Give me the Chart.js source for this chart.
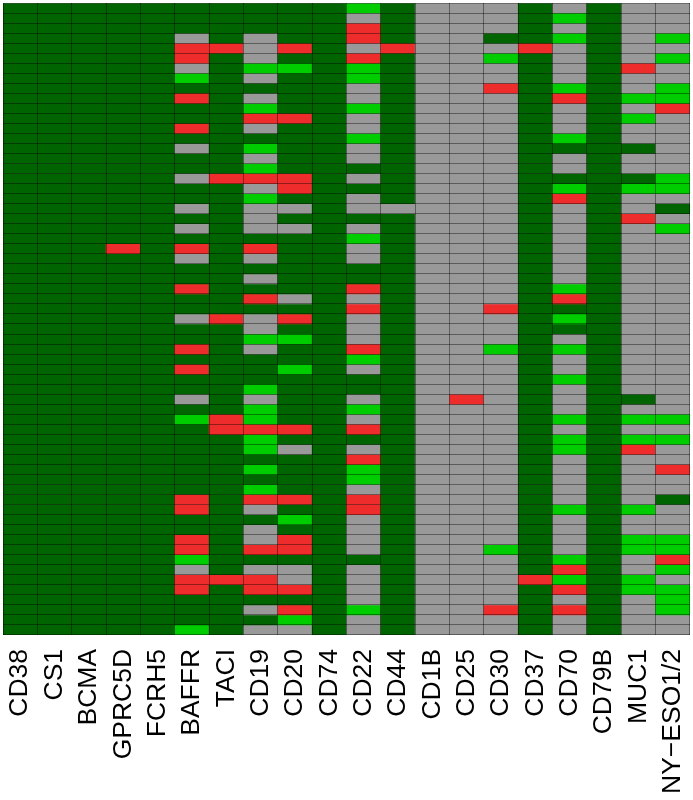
<!DOCTYPE html>
<html>
<head>
<meta charset="utf-8">
<script src="https://cdn.jsdelivr.net/npm/chart.js@4/dist/chart.umd.min.js"></script>
<style>
  html, body { margin: 0; padding: 0; overflow: hidden; background: #ffffff; }
  #wrap { width: 693px; height: 800px; position: relative; }
  canvas { display: block; }
</style>
</head>
<body>
<div id="wrap"><canvas id="heatmap"></canvas></div>
<script>
// Heatmap of target markers (columns) by sample (rows, top to bottom).
// Cell codes: d = dark green, g = grey, b = bright green, r = red

const markers = [
    'CD38', 'CS1', 'BCMA', 'GPRC5D', 'FCRH5', 'BAFFR', 'TACI', 'CD19', 'CD20', 'CD74',
    'CD22', 'CD44', 'CD1B', 'CD25', 'CD30', 'CD37', 'CD70', 'CD79B', 'MUC1', 'NY\u2212ESO1/2',
];

// one string per marker, one letter per sample row (63 rows, groups of 10)
const cellCodes = [
    'dddddddddd dddddddddd dddddddddd dddddddddd dddddddddd dddddddddd ddd', // CD38
    'dddddddddd dddddddddd dddddddddd dddddddddd dddddddddd dddddddddd ddd', // CS1
    'dddddddddd dddddddddd dddddddddd dddddddddd dddddddddd dddddddddd ddd', // BCMA
    'dddddddddd dddddddddd ddddrddddd dddddddddd dddddddddd dddddddddd ddd', // GPRC5D
    'dddddddddd dddddddddd dddddddddd dddddddddd dddddddddd dddddddddd ddd', // FCRH5
    'dddgrrgbdr ddrdgddgdd gdgdrgddrd dgddrdrddg dbdddddddr rddrrbgrrd ddb', // BAFFR
    'ddddrddddd dddddddrdd dddddddddd drdddddddd drrddddddd dddddddrdd ddd', // TACI
    'dddgggbgdg brgdbgbrgb gggdrgdgdr dggbgdddbg bbrbbdbdbr gdggrdgrrd gdg', // CD19
    'ddddrdbddd drdddddrrd gdgddddddg drdbddbddd ddrdgddddr dbdrrdggrd rbg', // CD20
    'dddddddddd dddddddddd dddddddddd dddddddddd dddddddddd dddddddddd ddd', // CD74
    'bgrrgrbbgg bggbggdgdg gdgbggddrg rgggrbgddg bgrdgrbbgr rggggdgggg bgg', // CD22
    'ddddrddddd dddddddddd gddddddddd dddddddddd dddddddddd dddddddddd ddd', // CD44
    'gggggggggg gggggggggg gggggggggg gggggggggg gggggggggg gggggggggg ggg', // CD1B
    'gggggggggg gggggggggg gggggggggg gggggggggr gggggggggg gggggggggg ggg', // CD25
    'gggdgbggrg gggggggggg gggggggggg rgggbggggg gggggggggg ggggbggggg rgg', // CD30
    'ddddrddddd dddddddddd dddddddddd dddddddddd dddddddddd dddddddrdd ddd', // CD37
    'gbgbggggbr gggbdggdbr ggggggggbr dbdgbggbgg gbgbbggggg bggggbrbrg rgg', // CD70
    'dddddddddd dddddddddd dddddddddd dddddddddd dddddddddd dddddddddd ddd', // CD79B
    'ggggggrggb gbggdggdbg grgggggggg gggggggggd gbgbrggggg bggbbggbbg ggg', // MUC1
    'gggbgbggbb rggggggbbg dgbggggggg gggggggggg gbgbggrggd gggbbrbgbb bgg', // NY-ESO1/2
].map(s => s.replace(/ /g, ''));

const palette = {
    d: 'rgb(0, 100, 0)',
    g: 'rgb(153, 153, 153)',
    b: 'rgb(0, 205, 0)',
    r: 'rgb(238, 44, 44)',
};

const rowCount = cellCodes[0].length;
const cellLine = 'rgba(0, 0, 0, 0.4)';

const datasets = [];
for (let i = 0; i < rowCount; i++) {
    datasets.push({
        label: 'sample ' + (i + 1),
        data: markers.map(() => 1),
        backgroundColor: cellCodes.map(codes => palette[codes[i]]),
        borderWidth: 0,
        barPercentage: 1,
        categoryPercentage: 1,
    });
}

const config = {
    type: 'bar',
    data: {
        labels: markers,
        datasets: datasets,
    },
    options: {
        responsive: true,
        maintainAspectRatio: false,
        animation: false,
        layout: { padding: { left: 3, right: 3, top: 3, bottom: 4 } },
        plugins: {
            legend: { display: false },
            tooltip: { enabled: false },
        },
        scales: {
            x: {
                stacked: true,
                grid: { display: true, offset: true, color: cellLine, lineWidth: 1, drawTicks: false, z: 1 },
                border: { display: false },
                ticks: {
                    autoSkip: false,
                    minRotation: 90,
                    maxRotation: 90,
                    padding: 14,
                    color: '#000000',
                    font: { family: "'Liberation Sans', Arial, sans-serif", size: 26.5 },
                },
                // rotated labels fit inside the columns, no extra side room needed
                afterFit: (scale) => {
                    scale.paddingLeft = 0;
                    scale.paddingRight = 0;
                    scale.height -= 12;
                },
            },
            y: {
                stacked: true,
                reverse: true,
                min: 0,
                max: rowCount,
                grid: { display: true, color: cellLine, lineWidth: 1, drawTicks: false, z: 1 },
                border: { display: false },
                ticks: { display: false, stepSize: 1, maxTicksLimit: 100 },
            },
        },
    },
};

const heatmapChart = new Chart(
    document.getElementById('heatmap'),
    config
);
</script>
</body>
</html>
